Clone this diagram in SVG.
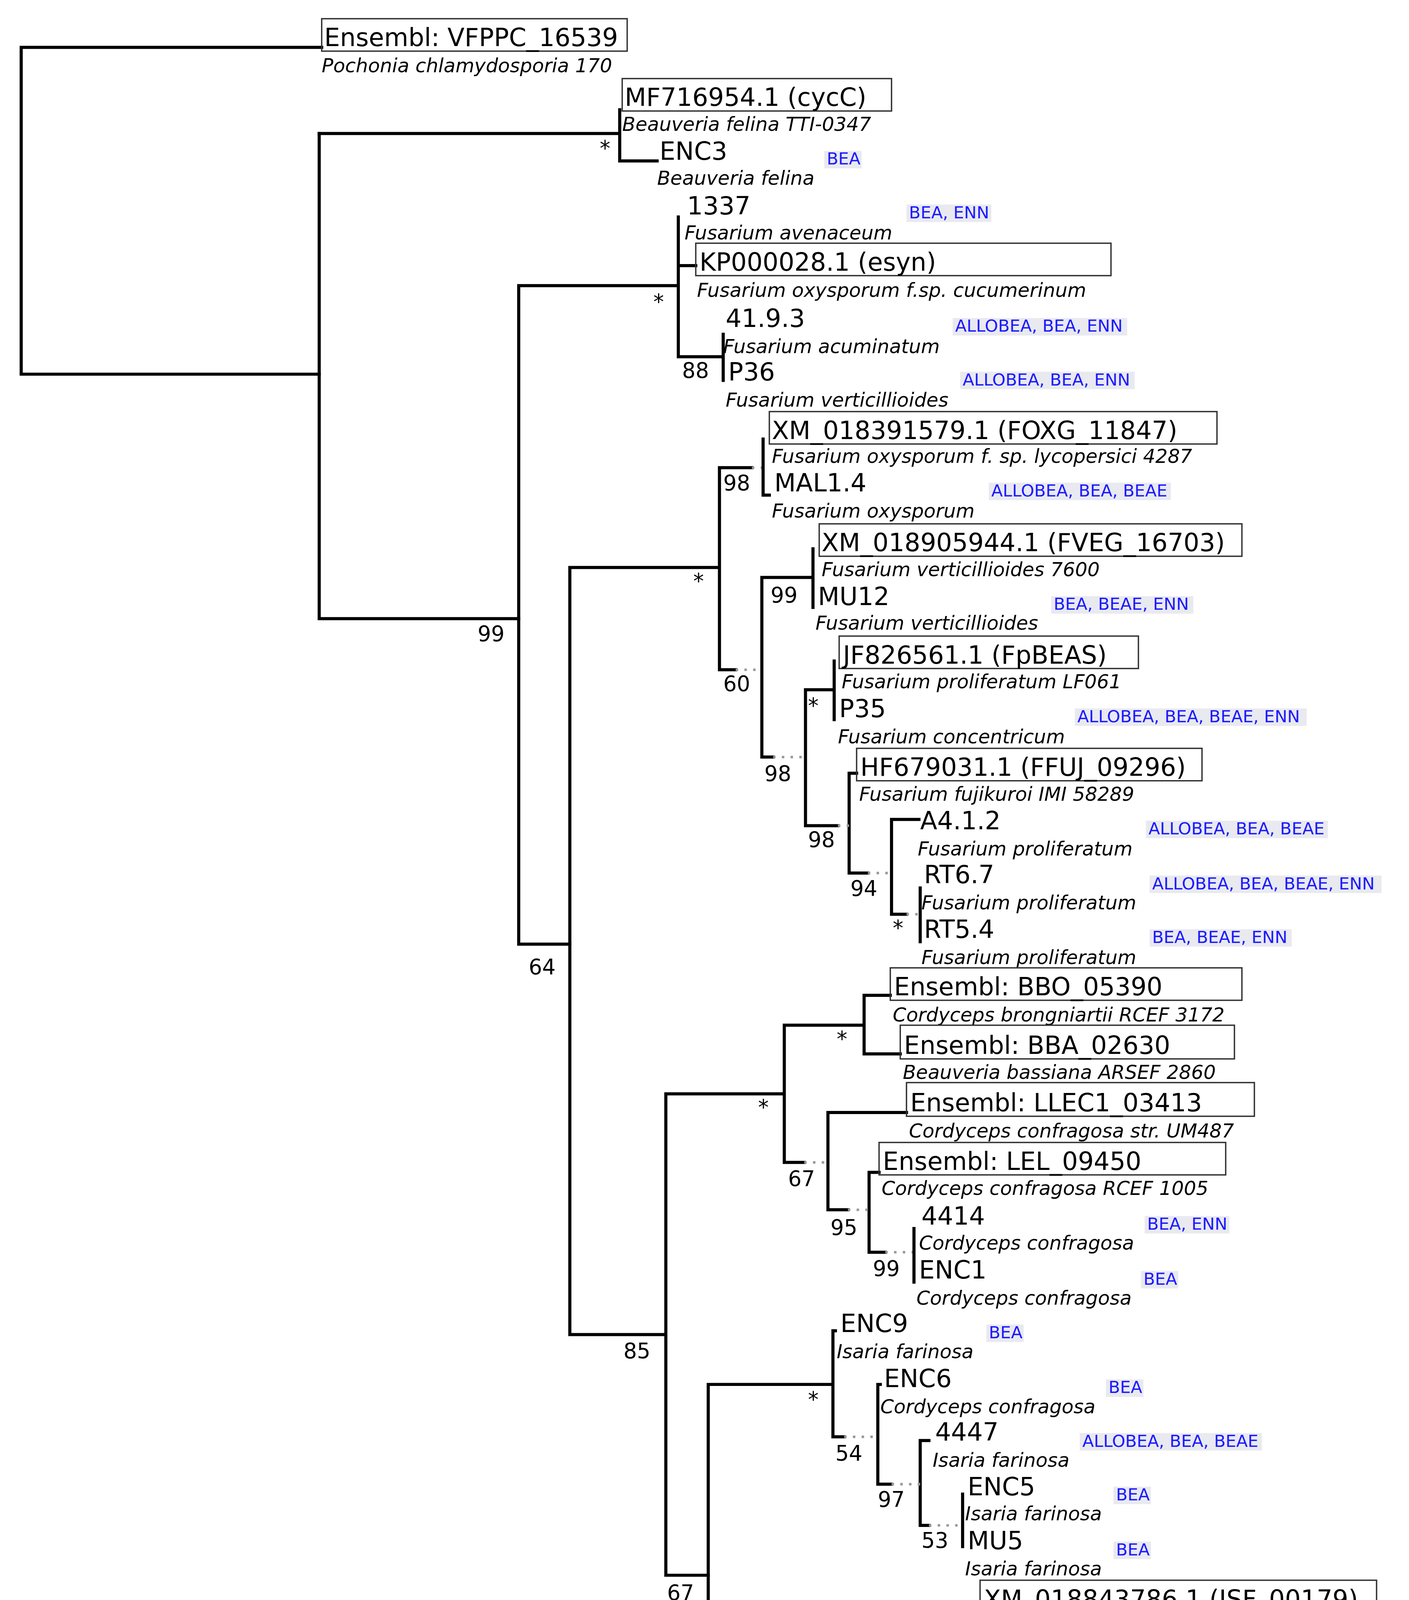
<svg xmlns="http://www.w3.org/2000/svg" width="3608" height="5026" viewBox="0 0 3608 5026">
<style>
.t{fill:none;stroke:#000;stroke-width:2.5;stroke-linecap:square}
.d{fill:none;stroke:#999;stroke-width:2;stroke-dasharray:2,5}
.n{font-family:"DejaVu Sans",Verdana,sans-serif;font-size:20px;fill:#000}
.s{font-family:"DejaVu Sans",Verdana,sans-serif;font-size:15.5px;font-style:italic;fill:#000}
.a{font-family:"DejaVu Sans",Verdana,sans-serif;font-size:13.5px;fill:#1a1aff}
.ab{fill:#e9e9f0}
.b{fill:none;stroke:#333;stroke-width:1.1}
.l{font-family:"DejaVu Sans",Verdana,sans-serif;font-size:17px;fill:#000}
</style>
<rect width="3608" height="5026" fill="#fff"/>
<g transform="scale(3.1929)">
<g id="connectors">
<path class="t" d="M258,38H17V300H256"/>
<path class="t" d="M256,107V496H416"/>
<path class="t" d="M256,107H497M497,88V129H527"/>
<path class="t" d="M416,229V757H457M416,229H544V174M544,286V174M544,213H558M544,286H580V268M580,305V268"/>
<path class="t" d="M457,455V1070H534M457,455H577M577,375V537H590M577,375H603"/>
<path class="d" d="M603,375H612M590,537H611"/>
<path class="t" d="M612,352V397H617M611,463V607H620M611,463H652V440M652,487V440"/>
<path class="d" d="M620,607H646"/>
<path class="t" d="M646,553V662H672M646,553H669V530M669,577V530M681,620V700H696M681,620H687"/>
<path class="d" d="M672,662H681M696,700H715"/>
<path class="t" d="M715,657V733H727M715,657H737M738,712V755"/>
<path class="d" d="M727,733H738"/>
<path class="t" d="M534,877V1263H568M534,877H629M629,822V932H645M629,822H693V798H714M693,845V798M693,845H722"/>
<path class="d" d="M645,932H664"/>
<path class="t" d="M664,892V970H680M664,892H727M697,940V1004H710M697,940H705"/>
<path class="d" d="M680,970H697M710,1004H733"/>
<path class="t" d="M733,985V1028"/>
<path class="t" d="M568,1110V1418H651M568,1110H668V1067M668,1152V1067H670M668,1152H677M704,1110V1190H715M704,1110H706M738,1155V1223H745M738,1155H745M772,1198V1240"/>
<path class="d" d="M677,1152H704M715,1190H738M745,1223H772"/>
<path class="t" d="M568,1311H780V1288M780,1333V1288H786"/>
<path class="t" d="M651,1380V1458H663M651,1380H652M686,1420V1492H698M686,1420H693M718,1470V1515H719M718,1470H719"/>
<path class="d" d="M663,1458H686M698,1492H718"/>
<path class="t" d="M17,1542H44M17,1538V1546M44,1538V1546" style="stroke-width:1;stroke:#555"/>
</g>
<g id="support-labels" class="l">
<text x="481" y="125">*</text>
<text x="383" y="514">99</text>
<text x="524" y="248">*</text>
<text x="547" y="303">88</text>
<text x="424" y="781">64</text>
<text x="556" y="472">*</text>
<text x="580" y="393">98</text>
<text x="580" y="554">60</text>
<text x="618" y="483">99</text>
<text x="613" y="626">98</text>
<text x="648" y="572">*</text>
<text x="648" y="679">98</text>
<text x="682" y="718">94</text>
<text x="716" y="750">*</text>
<text x="500" y="1089">85</text>
<text x="608" y="894">*</text>
<text x="671" y="839">*</text>
<text x="632" y="951">67</text>
<text x="666" y="990">95</text>
<text x="700" y="1023">99</text>
<text x="535" y="1283">67</text>
<text x="648" y="1128">*</text>
<text x="670" y="1171">54</text>
<text x="704" y="1208">97</text>
<text x="739" y="1241">53</text>
<text x="760" y="1329">*</text>
<text x="617" y="1438">99</text>
<text x="653" y="1477">85</text>
<text x="687" y="1511">97</text>
<text x="18" y="1558" style="font-size:12px;fill:#333">0.17</text>
</g>
<g id="VFPPC_16539"><rect class="b" x="258" y="15" width="245" height="26"/><text class="n" x="260" y="37">Ensembl: VFPPC_16539</text><text class="s" x="258" y="58">Pochonia chlamydosporia 170</text></g>
<g id="MF716954"><rect class="b" x="499" y="63" width="216" height="26"/><text class="n" x="501" y="85">MF716954.1 (cycC)</text><text class="s" x="499" y="105">Beauveria felina TTI-0347</text></g>
<g id="ENC3"><text class="n" x="529" y="128">ENC3</text><text class="s" x="527" y="148">Beauveria felina</text><rect class="ab" x="661" y="121" width="30" height="14"/><text class="a" x="663" y="132">BEA</text></g>
<g id="L1337"><text class="n" x="551" y="172">1337</text><text class="s" x="549" y="192">Fusarium avenaceum</text><rect class="ab" x="727" y="164" width="68" height="14"/><text class="a" x="729" y="175">BEA, ENN</text></g>
<g id="KP000028"><rect class="b" x="558" y="195" width="333" height="26"/><text class="n" x="561" y="217">KP000028.1 (esyn)</text><text class="s" x="559" y="238">Fusarium oxysporum f.sp. cucumerinum</text></g>
<g id="L41_9_3"><text class="n" x="582" y="262">41.9.3</text><text class="s" x="580" y="283">Fusarium acuminatum</text><rect class="ab" x="764" y="255" width="140" height="14"/><text class="a" x="766" y="266">ALLOBEA, BEA, ENN</text></g>
<g id="P36"><text class="n" x="584" y="305">P36</text><text class="s" x="582" y="326">Fusarium verticillioides</text><rect class="ab" x="770" y="298" width="140" height="14"/><text class="a" x="772" y="309">ALLOBEA, BEA, ENN</text></g>
<g id="FOXG_11847"><rect class="b" x="617" y="330" width="359" height="26"/><text class="n" x="619" y="352">XM_018391579.1 (FOXG_11847)</text><text class="s" x="619" y="371">Fusarium oxysporum f. sp. lycopersici 4287</text></g>
<g id="MAL1_4"><text class="n" x="621" y="394">MAL1.4</text><text class="s" x="619" y="415">Fusarium oxysporum</text><rect class="ab" x="793" y="387" width="146" height="14"/><text class="a" x="795" y="398">ALLOBEA, BEA, BEAE</text></g>
<g id="FVEG_16703"><rect class="b" x="657" y="420" width="339" height="26"/><text class="n" x="659" y="442">XM_018905944.1 (FVEG_16703)</text><text class="s" x="659" y="462">Fusarium verticillioides 7600</text></g>
<g id="MU12"><text class="n" x="656" y="485">MU12</text><text class="s" x="654" y="505">Fusarium verticillioides</text><rect class="ab" x="843" y="478" width="114" height="14"/><text class="a" x="845" y="489">BEA, BEAE, ENN</text></g>
<g id="FpBEAS"><rect class="b" x="673" y="510" width="240" height="26"/><text class="n" x="676" y="532">JF826561.1 (FpBEAS)</text><text class="s" x="675" y="552">Fusarium proliferatum LF061</text></g>
<g id="P35"><text class="n" x="673" y="575">P35</text><text class="s" x="672" y="596">Fusarium concentricum</text><rect class="ab" x="862" y="568" width="186" height="14"/><text class="a" x="864" y="579">ALLOBEA, BEA, BEAE, ENN</text></g>
<g id="FFUJ_09296"><rect class="b" x="687" y="600" width="277" height="26"/><text class="n" x="690" y="622">HF679031.1 (FFUJ_09296)</text><text class="s" x="689" y="642">Fusarium fujikuroi IMI 58289</text></g>
<g id="A4_1_2"><text class="n" x="738" y="665">A4.1.2</text><text class="s" x="736" y="686">Fusarium proliferatum</text><rect class="ab" x="919" y="658" width="146" height="14"/><text class="a" x="921" y="669">ALLOBEA, BEA, BEAE</text></g>
<g id="RT6_7"><text class="n" x="741" y="708">RT6.7</text><text class="s" x="739" y="729">Fusarium proliferatum</text><rect class="ab" x="922" y="702" width="186" height="14"/><text class="a" x="924" y="713">ALLOBEA, BEA, BEAE, ENN</text></g>
<g id="RT5_4"><text class="n" x="741" y="752">RT5.4</text><text class="s" x="739" y="773">Fusarium proliferatum</text><rect class="ab" x="922" y="745" width="114" height="14"/><text class="a" x="924" y="756">BEA, BEAE, ENN</text></g>
<g id="BBO_05390"><rect class="b" x="714" y="776" width="282" height="26"/><text class="n" x="717" y="798">Ensembl: BBO_05390</text><text class="s" x="716" y="819">Cordyceps brongniartii RCEF 3172</text></g>
<g id="BBA_02630"><rect class="b" x="722" y="822" width="268" height="27"/><text class="n" x="725" y="845">Ensembl: BBA_02630</text><text class="s" x="724" y="865">Beauveria bassiana ARSEF 2860</text></g>
<g id="LLEC1_03413"><rect class="b" x="727" y="868" width="279" height="27"/><text class="n" x="730" y="891">Ensembl: LLEC1_03413</text><text class="s" x="729" y="912">Cordyceps confragosa str. UM487</text></g>
<g id="LEL_09450"><rect class="b" x="705" y="916" width="278" height="26"/><text class="n" x="708" y="938">Ensembl: LEL_09450</text><text class="s" x="707" y="958">Cordyceps confragosa RCEF 1005</text></g>
<g id="L4414"><text class="n" x="739" y="982">4414</text><text class="s" x="737" y="1002">Cordyceps confragosa</text><rect class="ab" x="918" y="975" width="68" height="14"/><text class="a" x="920" y="986">BEA, ENN</text></g>
<g id="ENC1"><text class="n" x="737" y="1025">ENC1</text><text class="s" x="735" y="1046">Cordyceps confragosa</text><rect class="ab" x="915" y="1019" width="30" height="14"/><text class="a" x="917" y="1030">BEA</text></g>
<g id="ENC9"><text class="n" x="674" y="1068">ENC9</text><text class="s" x="671" y="1089">Isaria farinosa</text><rect class="ab" x="791" y="1062" width="30" height="14"/><text class="a" x="793" y="1073">BEA</text></g>
<g id="ENC6"><text class="n" x="709" y="1112">ENC6</text><text class="s" x="706" y="1133">Cordyceps confragosa</text><rect class="ab" x="887" y="1106" width="30" height="14"/><text class="a" x="889" y="1117">BEA</text></g>
<g id="L4447"><text class="n" x="750" y="1155">4447</text><text class="s" x="748" y="1176">Isaria farinosa</text><rect class="ab" x="866" y="1149" width="146" height="14"/><text class="a" x="868" y="1160">ALLOBEA, BEA, BEAE</text></g>
<g id="ENC5"><text class="n" x="776" y="1199">ENC5</text><text class="s" x="774" y="1219">Isaria farinosa</text><rect class="ab" x="893" y="1192" width="30" height="14"/><text class="a" x="895" y="1203">BEA</text></g>
<g id="MU5"><text class="n" x="776" y="1242">MU5</text><text class="s" x="774" y="1263">Isaria farinosa</text><rect class="ab" x="893" y="1236" width="30" height="14"/><text class="a" x="895" y="1247">BEA</text></g>
<g id="ISF_00179"><rect class="b" x="786" y="1267" width="318" height="26"/><text class="n" x="789" y="1289">XM_018843786.1 (ISF_00179)</text><text class="s" x="787" y="1309">Isaria fumosorosea ARSEF 2679</text></g>
<g id="MU1"><text class="n" x="786" y="1332">MU1</text><text class="s" x="783" y="1353">Isaria fumosorosea</text><rect class="ab" x="942" y="1326" width="68" height="14"/><text class="a" x="944" y="1337">BEA, ENN</text></g>
<g id="BbBVRC"><rect class="b" x="652" y="1357" width="232" height="26"/><text class="n" x="655" y="1379">JQ617289.1 (BbBVRC)</text><text class="s" x="654" y="1399">Beauveria bassiana Bb0062</text></g>
<g id="MU2"><text class="n" x="697" y="1422">MU2</text><text class="s" x="695" y="1443">Beauveria bassiana</text><rect class="ab" x="856" y="1416" width="100" height="14"/><text class="a" x="858" y="1427">ALLOBEA, BEA</text></g>
<g id="bbBeas"><rect class="b" x="719" y="1447" width="258" height="25"/><text class="n" x="722" y="1468">EU886196.1 (bbBeas)</text><text class="s" x="721" y="1489">Beauveria bassiana ATCC 7159</text></g>
<g id="BBA_09727"><rect class="b" x="719" y="1493" width="268" height="25"/><text class="n" x="722" y="1514">Ensembl: BBA_09727</text><text class="s" x="721" y="1535">Beauveria bassiana ARSEF 2860</text></g>
</g>
</svg>
